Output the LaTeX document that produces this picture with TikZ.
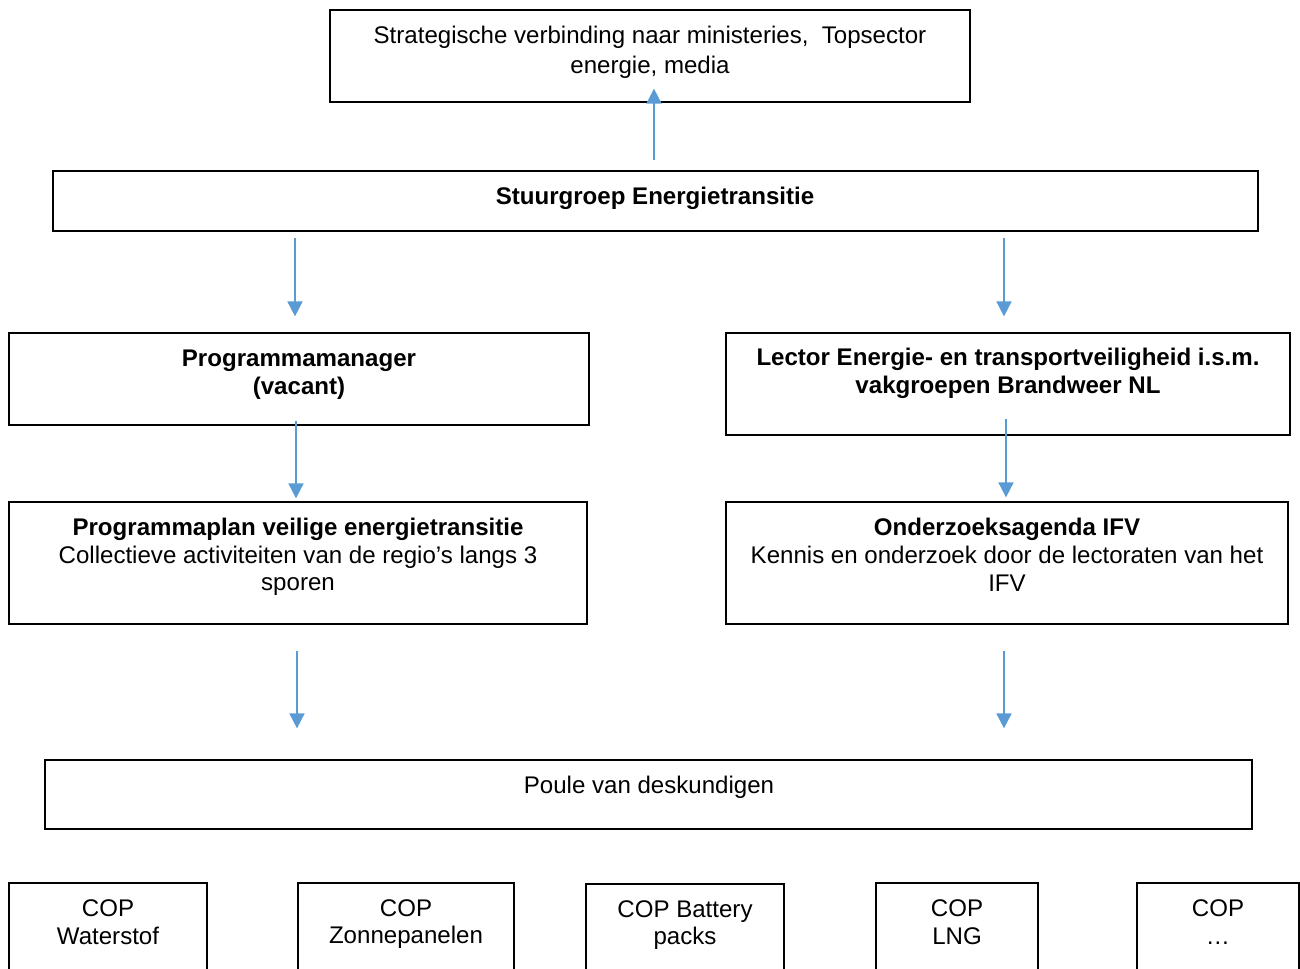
\documentclass[tikz,border=0pt]{standalone}
\usepackage{fontspec}
\setmainfont{Liberation Sans}
\usetikzlibrary{arrows.meta,calc}
\definecolor{flowblue}{RGB}{91,155,213}

\begin{document}
\begin{tikzpicture}[box/.style={rectangle,draw,line width=0.7pt,inner sep=0pt},
  txt/.style={align=center,inner sep=0pt,font=\fontsize{13.7}{15.8}\selectfont},
  flow/.style={draw=flowblue,line width=1pt,-{Triangle[width=0.3cm,length=0.3cm]}}]

\clip (0,0) rectangle (26,-19.36);

% boxes
\node[box, minimum width=12.8cm, minimum height=1.84cm] (top) at (13.0,-1.12) {};
\node[box, minimum width=24.1cm, minimum height=1.2cm] (stuur) at (13.11,-4.02) {};
\node[box, minimum width=11.6cm, minimum height=1.84cm] (pm) at (5.98,-7.58) {};
\node[box, minimum width=11.28cm, minimum height=2.04cm] (lector) at (20.16,-7.68) {};
\node[box, minimum width=11.56cm, minimum height=2.44cm] (ppl) at (5.96,-11.26) {};
\node[box, minimum width=11.24cm, minimum height=2.44cm] (ond) at (20.14,-11.26) {};
\node[box, minimum width=24.14cm, minimum height=1.38cm] (poule) at (12.97,-15.89) {};
\node[box, minimum width=3.96cm, minimum height=2.4cm] (cop1) at (2.16,-18.86) {};
\node[box, minimum width=4.32cm, minimum height=2.4cm] (cop2) at (8.12,-18.86) {};
\node[box, minimum width=3.96cm, minimum height=2.4cm] (cop3) at (13.7,-18.88) {};
\node[box, minimum width=3.24cm, minimum height=2.4cm] (cop4) at (19.14,-18.86) {};
\node[box, minimum width=3.24cm, minimum height=2.4cm] (cop5) at (24.36,-18.86) {};

% texts
\node[txt, font=\fontsize{13.7}{17}\selectfont] (toptext) at (13.0,-1.04)
  {Strategische verbinding naar ministeries,~ Topsector\\energie, media};
\node[txt] (stuurtext) at (13.1,-3.96) {\textbf{Stuurgroep Energietransitie}};
\node[txt] (pmtext) at (5.98,-7.5) {\textbf{Programmamanager}\\\textbf{(vacant)}};
\node[txt] (lectortext) at (20.16,-7.46)
  {\textbf{Lector Energie- en transportveiligheid i.s.m.}\\\textbf{vakgroepen Brandweer NL}};
\node[txt] (ppltext) at (5.96,-11.14)
  {\textbf{Programmaplan veilige energietransitie}\\Collectieve activiteiten van de regio’s langs 3\\sporen};
\node[txt] (ondtext) at (20.14,-11.1)
  {\textbf{Onderzoeksagenda IFV}\\Kennis en onderzoek door de lectoraten van het\\IFV};
\node[txt] (pouletext) at (12.98,-15.74) {Poule van deskundigen};
\node[txt] (cop1text) at (2.16,-18.44) {COP\\Waterstof};
\node[txt] (cop2text) at (8.12,-18.48) {COP\\Zonnepanelen};
\node[txt] (cop3text) at (13.7,-18.5) {COP Battery\\packs};
\node[txt] (cop4text) at (19.14,-18.44) {COP\\LNG};
\node[txt] (cop5text) at (24.36,-18.44) {COP\\…};

% arrows
\draw[flow] ([xshift=0.08cm,yshift=0.2cm]stuur.north -| top.south) -- ([xshift=0.08cm,yshift=0.28cm]top.south);
\draw[flow] ([xshift=-0.08cm,yshift=-0.12cm]stuur.south -| pm.north) -- ([xshift=-0.08cm,yshift=0.32cm]pm.north);
\draw[flow] ([xshift=-0.08cm,yshift=-0.12cm]stuur.south -| lector.north) -- ([xshift=-0.08cm,yshift=0.32cm]lector.north);
\draw[flow] ([xshift=-0.06cm,yshift=0.1cm]pm.south) -- ([xshift=-0.06cm,yshift=0.06cm]ppl.north -| pm.south);
\draw[flow] ([xshift=-0.04cm,yshift=0.34cm]lector.south) -- ([xshift=-0.04cm,yshift=0.08cm]ond.north -| lector.south);
\draw[flow] ([xshift=-0.02cm,yshift=-0.52cm]ppl.south) -- ([xshift=-0.02cm,yshift=0.62cm]poule.north -| ppl.south);
\draw[flow] ([xshift=-0.06cm,yshift=-0.52cm]ond.south) -- ([xshift=-0.06cm,yshift=0.62cm]poule.north -| ond.south);
\end{tikzpicture}
\end{document}
